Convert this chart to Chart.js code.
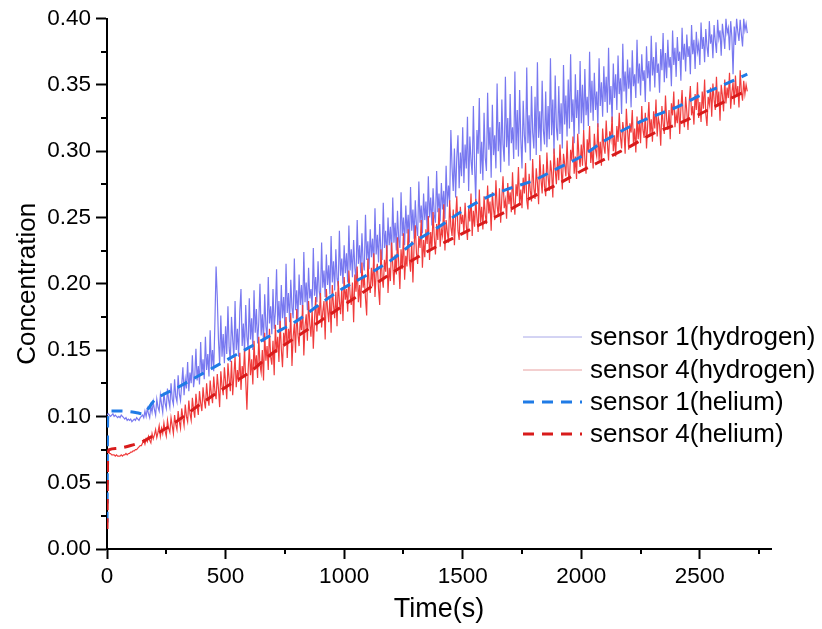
<!DOCTYPE html>
<html><head><meta charset="utf-8">
<script src="https://cdn.jsdelivr.net/npm/chart.js@4/dist/chart.umd.min.js"></script>
<style>html,body{margin:0;padding:0;background:#fff}canvas{display:block}</style>
</head><body>
<canvas id="c" width="822" height="629" style="width:822px;height:629px"></canvas>
<script>
// ---- data ----
const timeH = [
0,5,10,15,20,25,30,35,40,45,50,55,60,65,70,75,80,85,90,95,
100,105,110,115,120,125,130,135,140,145,150,155,160,165,170,175,180,185,190,195,
200,205,210,215,220,225,230,235,240,245,250,255,260,265,270,275,280,285,290,295,
300,305,310,315,320,325,330,335,340,345,350,355,360,365,370,375,380,385,390,395,
400,405,410,415,420,425,430,435,440,445,450,455,460,465,470,475,480,485,490,495,
500,505,510,515,520,525,530,535,540,545,550,555,560,565,570,575,580,585,590,595,
600,605,610,615,620,625,630,635,640,645,650,655,660,665,670,675,680,685,690,695,
700,705,710,715,720,725,730,735,740,745,750,755,760,765,770,775,780,785,790,795,
800,805,810,815,820,825,830,835,840,845,850,855,860,865,870,875,880,885,890,895,
900,905,910,915,920,925,930,935,940,945,950,955,960,965,970,975,980,985,990,995,
1000,1005,1010,1015,1020,1025,1030,1035,1040,1045,1050,1055,1060,1065,1070,1075,1080,1085,1090,1095,
1100,1105,1110,1115,1120,1125,1130,1135,1140,1145,1150,1155,1160,1165,1170,1175,1180,1185,1190,1195,
1200,1205,1210,1215,1220,1225,1230,1235,1240,1245,1250,1255,1260,1265,1270,1275,1280,1285,1290,1295,
1300,1305,1310,1315,1320,1325,1330,1335,1340,1345,1350,1355,1360,1365,1370,1375,1380,1385,1390,1395,
1400,1405,1410,1415,1420,1425,1430,1435,1440,1445,1450,1455,1460,1465,1470,1475,1480,1485,1490,1495,
1500,1505,1510,1515,1520,1525,1530,1535,1540,1545,1550,1555,1560,1565,1570,1575,1580,1585,1590,1595,
1600,1605,1610,1615,1620,1625,1630,1635,1640,1645,1650,1655,1660,1665,1670,1675,1680,1685,1690,1695,
1700,1705,1710,1715,1720,1725,1730,1735,1740,1745,1750,1755,1760,1765,1770,1775,1780,1785,1790,1795,
1800,1805,1810,1815,1820,1825,1830,1835,1840,1845,1850,1855,1860,1865,1870,1875,1880,1885,1890,1895,
1900,1905,1910,1915,1920,1925,1930,1935,1940,1945,1950,1955,1960,1965,1970,1975,1980,1985,1990,1995,
2000,2005,2010,2015,2020,2025,2030,2035,2040,2045,2050,2055,2060,2065,2070,2075,2080,2085,2090,2095,
2100,2105,2110,2115,2120,2125,2130,2135,2140,2145,2150,2155,2160,2165,2170,2175,2180,2185,2190,2195,
2200,2205,2210,2215,2220,2225,2230,2235,2240,2245,2250,2255,2260,2265,2270,2275,2280,2285,2290,2295,
2300,2305,2310,2315,2320,2325,2330,2335,2340,2345,2350,2355,2360,2365,2370,2375,2380,2385,2390,2395,
2400,2405,2410,2415,2420,2425,2430,2435,2440,2445,2450,2455,2460,2465,2470,2475,2480,2485,2490,2495,
2500,2505,2510,2515,2520,2525,2530,2535,2540,2545,2550,2555,2560,2565,2570,2575,2580,2585,2590,2595,
2600,2605,2610,2615,2620,2625,2630,2635,2640,2645,2650,2655,2660,2665,2670,2675,2680,2685,2690,2695,
2700];
const sensor1Hydrogen = [
0.101,0.102,0.101,0.100,0.101,0.102,0.100,0.101,0.100,0.099,
0.100,0.099,0.101,0.100,0.099,0.098,0.099,0.097,0.098,0.097,
0.098,0.096,0.097,0.098,0.097,0.099,0.098,0.097,0.099,0.100,
0.101,0.099,0.104,0.100,0.106,0.102,0.099,0.108,0.103,0.111,
0.105,0.101,0.113,0.107,0.104,0.116,0.109,0.103,0.118,0.110,
0.106,0.121,0.112,0.107,0.125,0.113,0.109,0.128,0.115,0.111,
0.131,0.117,0.112,0.124,0.137,0.116,0.128,0.121,0.141,0.119,
0.133,0.125,0.146,0.122,0.130,0.151,0.127,0.138,0.124,0.156,
0.131,0.143,0.128,0.160,0.135,0.147,0.130,0.165,0.137,0.150,
0.134,0.171,0.213,0.190,0.158,0.139,0.176,0.145,0.162,0.140,
0.168,0.147,0.183,0.152,0.141,0.175,0.158,0.144,0.187,0.150,
0.166,0.145,0.179,0.196,0.153,0.170,0.148,0.184,0.160,0.151,
0.189,0.158,0.174,0.150,0.195,0.163,0.181,0.155,0.171,0.200,
0.161,0.177,0.156,0.192,0.168,0.159,0.205,0.170,0.183,0.162,
0.196,0.166,0.179,0.211,0.169,0.187,0.164,0.199,0.174,0.190,
0.168,0.215,0.178,0.193,0.171,0.203,0.182,0.174,0.219,0.180,
0.195,0.173,0.207,0.184,0.199,0.177,0.224,0.186,0.201,0.180,
0.212,0.189,0.196,0.182,0.227,0.191,0.205,0.186,0.217,0.194,
0.188,0.231,0.197,0.210,0.190,0.222,0.199,0.214,0.192,0.236,
0.201,0.217,0.195,0.226,0.204,0.198,0.240,0.206,0.219,0.200,
0.229,0.208,0.223,0.201,0.244,0.210,0.226,0.205,0.233,0.212,
0.203,0.248,0.215,0.229,0.208,0.238,0.216,0.210,0.252,0.218,
0.232,0.211,0.241,0.220,0.234,0.213,0.257,0.222,0.237,0.216,
0.245,0.224,0.218,0.261,0.227,0.240,0.219,0.250,0.229,0.243,
0.222,0.265,0.231,0.246,0.225,0.255,0.233,0.227,0.269,0.236,
0.250,0.229,0.259,0.238,0.252,0.231,0.273,0.240,0.256,0.234,
0.263,0.243,0.236,0.277,0.246,0.259,0.238,0.268,0.248,0.262,
0.241,0.281,0.250,0.265,0.244,0.272,0.252,0.246,0.285,0.254,
0.268,0.247,0.276,0.256,0.270,0.249,0.289,0.258,0.274,0.262,
0.316,0.288,0.270,0.302,0.265,0.295,0.312,0.272,0.299,0.281,
0.318,0.276,0.305,0.287,0.326,0.270,0.311,0.293,0.282,0.334,
0.289,0.262,0.316,0.298,0.340,0.283,0.307,0.278,0.329,0.295,
0.285,0.344,0.301,0.318,0.280,0.335,0.297,0.312,0.287,0.351,
0.300,0.322,0.284,0.339,0.305,0.292,0.356,0.303,0.325,0.289,
0.343,0.306,0.318,0.294,0.360,0.301,0.331,0.296,0.346,0.309,
0.287,0.338,0.312,0.299,0.363,0.306,0.327,0.293,0.349,0.314,
0.302,0.341,0.297,0.367,0.310,0.330,0.300,0.353,0.316,0.305,
0.345,0.303,0.334,0.309,0.370,0.312,0.339,0.298,0.357,0.318,
0.308,0.349,0.313,0.336,0.302,0.365,0.320,0.342,0.311,0.354,
0.317,0.373,0.322,0.339,0.306,0.358,0.325,0.346,0.313,0.368,
0.321,0.350,0.316,0.362,0.327,0.341,0.319,0.375,0.329,0.353,
0.323,0.359,0.331,0.345,0.318,0.370,0.334,0.352,0.326,0.364,
0.337,0.356,0.329,0.378,0.335,0.349,0.322,0.366,0.340,0.358,
0.331,0.372,0.343,0.355,0.328,0.381,0.345,0.360,0.336,0.369,
0.347,0.363,0.333,0.376,0.349,0.358,0.340,0.384,0.351,0.366,
0.342,0.373,0.353,0.361,0.337,0.379,0.355,0.368,0.345,0.387,
0.357,0.371,0.348,0.382,0.359,0.366,0.344,0.377,0.361,0.389,
0.352,0.374,0.355,0.384,0.363,0.371,0.349,0.391,0.365,0.378,
0.356,0.386,0.368,0.375,0.353,0.393,0.369,0.381,0.360,0.388,
0.371,0.379,0.358,0.395,0.373,0.384,0.362,0.390,0.375,0.381,
0.365,0.397,0.377,0.386,0.367,0.392,0.379,0.371,0.398,0.381,
0.388,0.370,0.395,0.383,0.374,0.399,0.385,0.391,0.372,0.396,
0.387,0.377,0.400,0.389,0.393,0.376,0.398,0.386,0.358,0.394,
0.380,0.400,0.390,0.383,0.399,0.388,0.379,0.400,0.391,0.396,
0.389];
const sensor4Hydrogen = [
0.073,0.073,0.072,0.072,0.071,0.071,0.071,0.070,0.071,0.070,
0.070,0.070,0.071,0.070,0.071,0.071,0.072,0.071,0.072,0.072,
0.073,0.073,0.074,0.074,0.075,0.075,0.076,0.077,0.078,0.078,
0.080,0.082,0.079,0.083,0.081,0.085,0.082,0.080,0.087,0.083,
0.086,0.090,0.084,0.088,0.093,0.085,0.091,0.087,0.095,0.089,
0.085,0.097,0.091,0.088,0.099,0.093,0.087,0.101,0.094,0.090,
0.104,0.096,0.091,0.106,0.099,0.093,0.109,0.100,0.096,0.112,
0.102,0.097,0.114,0.105,0.099,0.117,0.108,0.101,0.119,0.110,
0.104,0.122,0.112,0.106,0.125,0.114,0.108,0.127,0.117,0.110,
0.130,0.119,0.113,0.132,0.121,0.107,0.134,0.123,0.116,0.137,
0.126,0.113,0.140,0.128,0.119,0.142,0.116,0.131,0.145,0.122,
0.135,0.126,0.148,0.120,0.138,0.130,0.151,0.127,0.105,0.134,
0.153,0.131,0.143,0.124,0.157,0.136,0.146,0.129,0.160,0.139,
0.133,0.150,0.127,0.163,0.142,0.153,0.135,0.166,0.145,0.139,
0.157,0.131,0.169,0.148,0.160,0.141,0.172,0.151,0.137,0.163,
0.154,0.175,0.144,0.166,0.157,0.178,0.138,0.160,0.170,0.148,
0.181,0.162,0.153,0.174,0.165,0.184,0.146,0.168,0.177,0.157,
0.187,0.170,0.160,0.181,0.151,0.173,0.190,0.164,0.184,0.176,
0.193,0.167,0.179,0.187,0.158,0.196,0.181,0.171,0.190,0.163,
0.199,0.184,0.174,0.194,0.168,0.202,0.187,0.177,0.197,0.172,
0.205,0.188,0.196,0.179,0.210,0.192,0.184,0.201,0.171,0.207,
0.194,0.213,0.186,0.199,0.182,0.216,0.197,0.205,0.189,0.176,
0.219,0.201,0.193,0.212,0.198,0.223,0.190,0.208,0.215,0.196,
0.184,0.226,0.205,0.197,0.218,0.209,0.229,0.193,0.212,0.202,
0.231,0.214,0.199,0.222,0.207,0.235,0.216,0.196,0.226,0.211,
0.238,0.203,0.221,0.213,0.241,0.218,0.209,0.232,0.201,0.229,
0.244,0.223,0.215,0.236,0.227,0.248,0.212,0.233,0.220,0.241,
0.230,0.251,0.218,0.239,0.226,0.254,0.235,0.222,0.245,0.233,
0.257,0.228,0.241,0.236,0.260,0.225,0.248,0.239,0.231,0.263,
0.243,0.236,0.256,0.229,0.249,0.266,0.240,0.233,0.258,0.245,
0.252,0.238,0.261,0.244,0.233,0.257,0.247,0.268,0.236,0.255,
0.243,0.264,0.250,0.239,0.271,0.246,0.258,0.241,0.266,0.252,
0.245,0.274,0.253,0.262,0.240,0.269,0.256,0.248,0.278,0.259,
0.251,0.272,0.246,0.265,0.281,0.257,0.263,0.249,0.276,0.260,
0.269,0.254,0.284,0.262,0.252,0.275,0.266,0.288,0.259,0.271,
0.257,0.280,0.268,0.291,0.263,0.256,0.283,0.270,0.262,0.294,
0.272,0.264,0.287,0.276,0.260,0.297,0.279,0.268,0.290,0.273,
0.266,0.299,0.281,0.270,0.293,0.284,0.265,0.302,0.286,0.275,
0.295,0.278,0.305,0.287,0.271,0.298,0.290,0.281,0.308,0.284,
0.276,0.301,0.293,0.311,0.283,0.296,0.279,0.313,0.297,0.288,
0.305,0.289,0.316,0.294,0.283,0.309,0.299,0.319,0.291,0.302,
0.287,0.313,0.301,0.296,0.321,0.293,0.307,0.289,0.317,0.304,
0.298,0.323,0.306,0.293,0.315,0.309,0.326,0.300,0.312,0.296,
0.319,0.307,0.329,0.311,0.302,0.322,0.314,0.298,0.332,0.316,
0.301,0.321,0.314,0.331,0.305,0.317,0.299,0.326,0.309,0.323,
0.306,0.334,0.316,0.310,0.329,0.302,0.320,0.337,0.313,0.324,
0.307,0.330,0.317,0.339,0.311,0.325,0.320,0.304,0.334,0.321,
0.313,0.342,0.324,0.316,0.331,0.309,0.336,0.327,0.345,0.318,
0.328,0.321,0.339,0.313,0.332,0.346,0.324,0.318,0.341,0.330,
0.316,0.337,0.349,0.327,0.334,0.320,0.343,0.331,0.352,0.325,
0.337,0.322,0.345,0.332,0.354,0.328,0.319,0.341,0.335,0.348,
0.326,0.351,0.339,0.331,0.356,0.334,0.345,0.323,0.350,0.342,
0.330,0.354,0.336,0.348,0.340,0.359,0.332,0.344,0.352,0.335,
0.357,0.341,0.349,0.333,0.361,0.345,0.338,0.353,0.343,0.350,
0.345];
const timeHe1 = [0,3,10,60,120,150,200,300,400,500,600,700,800,900,1000,1100,1200,1300,1400,1500,1600,1700,1800,1900,2000,2100,2200,2300,2400,2500,2600,2700];
const sensor1Helium = [0.020,0.098,0.104,0.104,0.103,0.102,0.112,0.122,0.132,0.142,0.152,0.162,0.172,0.185,0.197,0.207,0.218,0.232,0.243,0.255,0.265,0.272,0.278,0.287,0.296,0.308,0.318,0.326,0.333,0.342,0.350,0.358];
const timeHe4 = [0,3,10,50,100,150,200,250,300,400,500,600,700,800,900,1000,1100,1200,1300,1400,1500,1600,1700,1800,1900,2000,2100,2200,2300,2400,2500,2600,2700];
const sensor4Helium = [0.015,0.070,0.075,0.076,0.078,0.081,0.086,0.091,0.097,0.110,0.122,0.133,0.148,0.160,0.172,0.184,0.196,0.208,0.219,0.229,0.238,0.247,0.256,0.266,0.275,0.285,0.294,0.303,0.313,0.320,0.328,0.337,0.346];
const xTickValues = [0, 500, 1000, 1500, 2000, 2500];
const yTickValues = [0, 0.05, 0.10, 0.15, 0.20, 0.25, 0.30, 0.35, 0.40];
const seriesLabels = ['sensor 1(hydrogen)','sensor 4(hydrogen)','sensor 1(helium)','sensor 4(helium)'];
const xTitle = 'Time(s)';
const yTitle = 'Concentration';

// ---- build ----
const pts = (xs, ys) => xs.map((x, i) => ({x: x, y: ys[i]}));
const FONT = '"Liberation Sans", Arial, sans-serif';

const minorTicks = {
  id: 'minorTicks',
  afterDraw(chart) {
    const ctx = chart.ctx;
    const xs = chart.scales.x, ys = chart.scales.y;
    ctx.save();
    ctx.strokeStyle = '#000';
    ctx.lineWidth = 2;
    const xStep = xTickValues[1] - xTickValues[0];
    xTickValues.forEach(t => {
      const v = t + xStep / 2;
      if (v > xs.max) return;
      const px = Math.round(xs.getPixelForValue(v));
      ctx.beginPath(); ctx.moveTo(px, xs.top); ctx.lineTo(px, xs.top + 5); ctx.stroke();
    });
    const yStep = yTickValues[1] - yTickValues[0];
    yTickValues.slice(0, -1).forEach(t => {
      const py = Math.round(ys.getPixelForValue(t + yStep / 2));
      ctx.beginPath(); ctx.moveTo(ys.right, py); ctx.lineTo(ys.right - 6, py); ctx.stroke();
    });
    ctx.restore();
  }
};

const customLegend = {
  id: 'customLegend',
  afterDraw(chart) {
    const ctx = chart.ctx;
    const x0 = 523, x1 = 582, tx = 590, ys = [337, 370, 402, 434];
    ctx.save();
    ctx.font = '26px ' + FONT;
    ctx.textBaseline = 'middle';
    chart.data.datasets.forEach((ds, i) => {
      ctx.strokeStyle = ds.legendColor || ds.borderColor;
      ctx.lineWidth = ds.borderDash ? ds.borderWidth : 1;
      ctx.setLineDash(ds.borderDash || []);
      ctx.beginPath(); ctx.moveTo(x0, ys[i]); ctx.lineTo(x1, ys[i]); ctx.stroke();
      ctx.setLineDash([]);
      ctx.fillStyle = '#000';
      ctx.fillText(ds.label, tx, ys[i] + 1);
    });
    ctx.restore();
  }
};

new Chart(document.getElementById('c'), {
  type: 'line',
  data: {
    datasets: [
      {label: seriesLabels[0], data: pts(timeH, sensor1Hydrogen), borderColor: '#7878f0', legendColor: '#a8a8e8', borderWidth: 1.2, pointRadius: 0, order: 4},
      {label: seriesLabels[1], data: pts(timeH, sensor4Hydrogen), borderColor: '#f03c3c', legendColor: '#e8a0a0', borderWidth: 1.2, pointRadius: 0, order: 3},
      {label: seriesLabels[2], data: pts(timeHe1, sensor1Helium), borderColor: '#1f7be6', borderWidth: 3, borderDash: [11, 8], pointRadius: 0, cubicInterpolationMode: 'monotone', order: 2},
      {label: seriesLabels[3], data: pts(timeHe4, sensor4Helium), borderColor: '#d81b1b', borderWidth: 3, borderDash: [11, 8], pointRadius: 0, cubicInterpolationMode: 'monotone', order: 1}
    ]
  },
  options: {
    responsive: false,
    animation: false,
    events: [],
    layout: {padding: {left: 0, right: 51, top: 15, bottom: 0}, autoPadding: false},
    plugins: {legend: {display: false}, tooltip: {enabled: false}},
    scales: {
      x: {
        type: 'linear', min: 0, max: 2800,
        afterFit: s => { s.height = 80; },
        afterBuildTicks: s => { s.ticks = xTickValues.map(v => ({value: v})); },
        border: {display: true, color: '#000', width: 2},
        grid: {display: true, drawOnChartArea: false, drawTicks: true, tickLength: 10, color: '#000', tickWidth: 2, tickColor: '#000'},
        ticks: {autoSkip: false, color: '#000', font: {family: FONT, size: 22.5}, padding: 4, maxRotation: 0, callback: v => String(v)},
        title: {display: true, text: xTitle, color: '#000', font: {family: FONT, size: 27}, padding: {top: 0, bottom: 3}}
      },
      y: {
        type: 'linear', min: 0, max: 0.4,
        afterFit: s => { s.width = 107; },
        afterBuildTicks: s => { s.ticks = yTickValues.map(v => ({value: v})); },
        border: {display: true, color: '#000', width: 2},
        grid: {display: true, drawOnChartArea: false, drawTicks: true, tickLength: 11, color: '#000', tickWidth: 2, tickColor: '#000'},
        ticks: {autoSkip: false, color: '#000', font: {family: FONT, size: 22.5}, padding: 5, callback: v => v.toFixed(2)},
        title: {display: true, text: yTitle, color: '#000', font: {family: FONT, size: 26}, padding: {top: 12, bottom: 0}}
      }
    }
  },
  plugins: [minorTicks, customLegend]
});
</script>
</body></html>
